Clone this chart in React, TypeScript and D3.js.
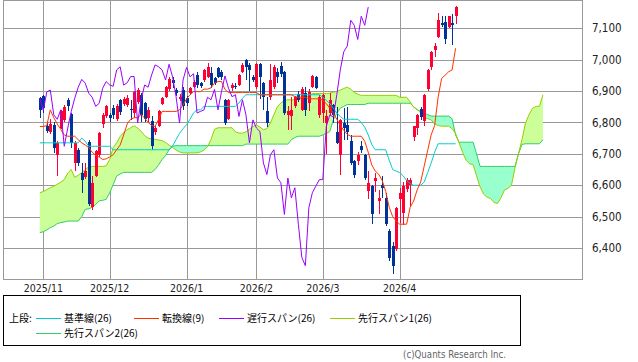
import React from "react";
import * as d3 from "d3";

// Ichimoku chart, daily bars from 2025/10/31 (index 0)
const width = 638;
const height = 362;

const monthIdx = [1, 20, 42, 62, 81, 103];
const monthLabels = ["2025/11", "2025/12", "2026/1", "2026/2", "2026/3", "2026/4"];
const priceTicks = [6400, 6500, 6600, 6700, 6800, 6900, 7000, 7100];

const opens = [
  6878, 6883, 6790, 6768, 6793, 6697, 6782, 6808, 6872, 6827, 6672, 6713, 6640, 6627, 6738, 6530, 6630, 6697, 6795, 6819,
  6822, 6845, 6811, 6872, 6859, 6856, 6843, 6830, 6865, 6888, 6862, 6815, 6803, 6770, 6788, 6860, 6882, 6905, 6935, 6904,
  6874, 6904, 6877, 6893, 6914, 6951, 6925, 6935, 6946, 6956, 6942, 6972, 6962, 6870, 6812, 6909, 6916, 6919, 6962, 7000,
  6983, 6946, 6914, 6985, 6925, 6835, 6880, 6912, 6962, 6980, 6962, 6824, 6819, 6851, 6890, 6840, 6893, 6861, 6914, 6943,
  6824, 6830, 6798, 6830, 6856, 6770, 6697, 6797, 6792, 6740, 6676, 6676, 6724, 6697, 6581, 6597, 6613, 6550, 6602, 6560,
  6454, 6407, 6396, 6555, 6513, 6587, 6602, 6753, 6782, 6842, 6803, 6905, 6977, 7032, 7072, 7117, 7120, 7104, 7117, 7138,
];
const highs = [
  6880, 6888, 6800, 6810, 6800, 6740, 6840, 6855, 6878, 6830, 6740, 6720, 6670, 6672, 6745, 6630, 6712, 6770, 6830, 6855,
  6830, 6855, 6860, 6875, 6880, 6888, 6872, 6900, 6908, 6895, 6866, 6848, 6819, 6790, 6840, 6882, 6915, 6945, 6946, 6910,
  6890, 6914, 6885, 6912, 6935, 6961, 6930, 6970, 6988, 6977, 6945, 6975, 6967, 6875, 6876, 6925, 6925, 6955, 6990, 7003,
  6988, 6950, 6990, 6990, 6930, 6880, 6985, 6982, 6972, 6992, 6965, 6852, 6880, 6885, 6900, 6912, 6914, 6905, 6952, 6948,
  6886, 6890, 6840, 6893, 6860, 6850, 6812, 6845, 6850, 6760, 6680, 6705, 6740, 6700, 6645, 6600, 6640, 6585, 6630, 6575,
  6460, 6420, 6530, 6590, 6610, 6622, 6622, 6790, 6826, 6848, 6890, 6970, 7028, 7054, 7148, 7138, 7138, 7140, 7146, 7170,
];
const lows = [
  6815, 6830, 6765, 6762, 6704, 6630, 6778, 6800, 6835, 6718, 6645, 6660, 6574, 6620, 6535, 6520, 6625, 6690, 6782, 6815,
  6800, 6810, 6805, 6825, 6852, 6850, 6808, 6815, 6860, 6800, 6800, 6800, 6713, 6760, 6785, 6855, 6878, 6900, 6909, 6885,
  6868, 6840, 6851, 6888, 6910, 6909, 6910, 6930, 6940, 6909, 6920, 6940, 6935, 6792, 6808, 6900, 6905, 6915, 6958, 6935,
  6900, 6930, 6905, 6875, 6840, 6785, 6870, 6905, 6925, 6945, 6825, 6777, 6777, 6845, 6865, 6835, 6819, 6835, 6910, 6905,
  6815, 6798, 6700, 6820, 6798, 6730, 6634, 6745, 6745, 6665, 6623, 6665, 6703, 6618, 6555, 6476, 6580, 6510, 6560, 6470,
  6360, 6317, 6390, 6481, 6475, 6580, 6535, 6740, 6760, 6808, 6788, 6900, 6967, 7007, 7070, 7105, 7050, 7100, 7046, 7113,
];
const closes = [
  6840, 6845, 6772, 6795, 6720, 6736, 6835, 6849, 6853, 6735, 6736, 6672, 6616, 6645, 6540, 6608, 6708, 6766, 6823, 6851,
  6815, 6825, 6853, 6832, 6874, 6877, 6838, 6897, 6903, 6824, 6810, 6840, 6724, 6782, 6835, 6877, 6912, 6937, 6925, 6893,
  6880, 6851, 6861, 6909, 6930, 6919, 6915, 6967, 6977, 6919, 6926, 6946, 6946, 6798, 6872, 6919, 6912, 6951, 6983, 6977,
  6967, 6935, 6985, 6945, 6882, 6798, 6935, 6975, 6945, 6955, 6830, 6835, 6840, 6880, 6872, 6905, 6840, 6898, 6948, 6909,
  6882, 6888, 6819, 6872, 6824, 6735, 6808, 6782, 6771, 6671, 6634, 6697, 6713, 6623, 6608, 6507, 6623, 6560, 6592, 6476,
  6370, 6344, 6528, 6576, 6597, 6618, 6618, 6787, 6824, 6817, 6888, 6967, 7025, 7043, 7125, 7109, 7064, 7138, 7109, 7167,
];

// 転換線(9)
const tenkan = [
  6787, 6787, 6790, 6840, 6815, 6795, 6778, 6760, 6756, 6756, 6756, 6745, 6735, 6728, 6720, 6705, 6695, 6690, 6682, 6684,
  6690, 6697, 6713, 6728, 6760, 6795, 6810, 6815, 6815, 6825, 6814, 6800, 6790, 6787, 6810, 6835, 6835, 6835, 6835, 6835,
  6840, 6855, 6875, 6888, 6898, 6898, 6898, 6906, 6906, 6910, 6925, 6930, 6930, 6905, 6895, 6895, 6895, 6895, 6895, 6895,
  6895, 6895, 6895, 6888, 6888, 6888, 6888, 6888, 6888, 6888, 6888, 6888, 6888, 6882, 6880, 6880, 6880, 6875, 6875, 6875,
  6875, 6870, 6860, 6845, 6830, 6810, 6790, 6775, 6762, 6756, 6756, 6756, 6756, 6740, 6705, 6665, 6645, 6635, 6615, 6580,
  6530, 6500, 6486, 6476, 6476, 6476, 6530, 6550, 6585, 6610, 6660, 6710, 6760, 6790, 6880, 6940, 6950, 6961, 6967, 7036,
];
// 基準線(26)
const kijun = [
  6735, 6735, 6735, 6735, 6735, 6735, 6735, 6735, 6735, 6735, 6735, 6735, 6750, 6740, 6724, 6724, 6724, 6724, 6724, 6724,
  6724, 6713, 6713, 6713, 6713, 6713, 6713, 6713, 6713, 6713, 6713, 6713, 6713, 6713, 6713, 6713, 6713, 6713, 6725, 6745,
  6765, 6780, 6793, 6810, 6830, 6840, 6840, 6851, 6851, 6851, 6851, 6851, 6851, 6851, 6851, 6851, 6851, 6862, 6877, 6888,
  6888, 6888, 6888, 6888, 6888, 6888, 6888, 6888, 6888, 6888, 6888, 6888, 6888, 6888, 6888, 6888, 6888, 6888, 6888, 6888,
  6888, 6880, 6870, 6860, 6845, 6830, 6819, 6810, 6810, 6810, 6810, 6810, 6800, 6785, 6760, 6730, 6713, 6713, 6713, 6713,
  6680, 6650, 6645, 6640, 6630, 6615, 6605, 6600, 6600, 6600, 6610, 6640, 6670, 6705, 6732, 6732, 6732, 6732, 6732, 6732,
];
// 先行スパン1(26), drawn from index 0 to 144
const span1 = [
  6576, 6580, 6586, 6592, 6597, 6603, 6610, 6618, 6639, 6650, 6625, 6632, 6640, 6650, 6658, 6660, 6660, 6660, 6660, 6662,
  6682, 6720, 6735, 6755, 6768, 6777, 6783, 6789, 6782, 6772, 6758, 6750, 6747, 6746, 6744, 6742, 6736, 6728, 6720, 6712,
  6706, 6703, 6703, 6703, 6703, 6703, 6706, 6712, 6722, 6745, 6778, 6783, 6783, 6783, 6783, 6783, 6770, 6766, 6766, 6770,
  6778, 6787, 6792, 6785, 6777, 6780, 6798, 6825, 6850, 6862, 6870, 6872, 6872, 6872, 6876, 6876, 6880, 6884, 6892, 6892,
  6892, 6892, 6892, 6893, 6896, 6898, 6903, 6908, 6912, 6906, 6895, 6890, 6886, 6886, 6886, 6886, 6886, 6886, 6886, 6886,
  6886, 6886, 6886, 6880, 6880, 6880, 6865, 6848, 6842, 6830, 6815, 6812, 6808, 6795, 6790, 6788, 6788, 6788, 6780, 6765,
  6735, 6705, 6680, 6668, 6666, 6630, 6595, 6572, 6562, 6558, 6545, 6542, 6560, 6585, 6590, 6600, 6655, 6700, 6745, 6798,
  6824, 6845, 6851, 6851, 6888,
];
// 先行スパン2(26)
const span2 = [
  6449, 6452, 6458, 6465, 6470, 6478, 6481, 6483, 6486, 6486, 6486, 6486, 6500, 6523, 6525, 6530, 6539, 6550, 6552, 6555,
  6576, 6602, 6629, 6636, 6641, 6641, 6641, 6641, 6641, 6641, 6641, 6641, 6641, 6650, 6665, 6682, 6695, 6713, 6724, 6726,
  6726, 6726, 6726, 6726, 6726, 6726, 6726, 6726, 6726, 6726, 6726, 6726, 6726, 6726, 6726, 6726, 6726, 6726, 6726, 6731,
  6731, 6731, 6731, 6731, 6731, 6731, 6731, 6731, 6731, 6731, 6731, 6731, 6745, 6752, 6756, 6756, 6756, 6756, 6756, 6756,
  6756, 6760, 6765, 6771, 6808, 6829, 6845, 6851, 6857, 6857, 6857, 6857, 6857, 6857, 6861, 6861, 6861, 6861, 6861, 6861,
  6861, 6861, 6861, 6861, 6861, 6861, 6861, 6850, 6840, 6835, 6830, 6825, 6820, 6820, 6820, 6820, 6820, 6820, 6812, 6760,
  6737, 6737, 6737, 6737, 6737, 6700, 6660, 6660, 6660, 6660, 6660, 6660, 6660, 6660, 6660, 6660, 6660, 6700, 6730, 6732,
  6732, 6732, 6732, 6732, 6745,
];

const LAG = 25; // 遅行スパン shift

const C = {
  up: "#ff0033",
  down: "#003399",
  kijun: "#00cccc",
  tenkan: "#ff3300",
  chikou: "#9900ff",
  span1: "#99cc00",
  span2: "#33cc66",
  cloudUp: "#ccff99",
  cloudDown: "#99ffcc",
  grid: "#999999",
};

const legendItems = [
  { label: "基準線(26)", color: C.kijun, x: 36, row: 0 },
  { label: "転換線(9)", color: C.tenkan, x: 134, row: 0 },
  { label: "遅行スパン(26)", color: C.chikou, x: 219, row: 0 },
  { label: "先行スパン1(26)", color: C.span1, x: 330, row: 0 },
  { label: "先行スパン2(26)", color: C.span2, x: 36, row: 1 },
];

export default function App() {
  const plot = { left: 3.5, right: 582.5, top: 0.5, bottom: 279.5 };
  const x = d3.scaleLinear().domain([0, 145]).range([39.8, 39.8 + 145 * 3.494]);
  const y = d3.scaleLinear().domain([6300, 7188]).range([plot.bottom, plot.top]);

  const idx = d3.range(span1.length);
  const cloudUp = d3
    .area<number>()
    .x((i) => x(i))
    .y0((i) => y(span2[i]))
    .y1((i) => y(Math.max(span1[i], span2[i])));
  const cloudDown = d3
    .area<number>()
    .x((i) => x(i))
    .y0((i) => y(span1[i]))
    .y1((i) => y(Math.max(span1[i], span2[i])));

  const line = (vals: number[], shift = 0) =>
    d3
      .line<number>()
      .x((_, i) => x(i + shift))
      .y((v) => y(v))(vals) || "";

  const chikouPts = closes.slice(LAG);
  const axisFont = { fontFamily: "'DejaVu Sans', sans-serif", fontStretch: "condensed" as const };
  const jpFont = "'Noto Sans CJK JP', sans-serif";

  return (
    <svg width={width} height={height} style={{ position: "absolute", left: 0, top: 0, background: "#fff" }}>
      <defs>
        <clipPath id="plotClip">
          <rect x={plot.left} y={plot.top} width={plot.right - plot.left} height={plot.bottom - plot.top} />
        </clipPath>
      </defs>

      {/* grid */}
      <g stroke={C.grid} strokeWidth={1} shapeRendering="crispEdges">
        {priceTicks.map((t) => (
          <line key={t} x1={plot.left} x2={plot.right} y1={Math.round(y(t)) + 0.5} y2={Math.round(y(t)) + 0.5} />
        ))}
        {monthIdx.map((m) => (
          <line key={m} x1={Math.round(x(m)) + 0.5} x2={Math.round(x(m)) + 0.5} y1={plot.top} y2={plot.bottom} />
        ))}
      </g>

      <g clipPath="url(#plotClip)">
        {/* cloud */}
        <path d={cloudUp(idx) || ""} fill={C.cloudUp} />
        <path d={cloudDown(idx) || ""} fill={C.cloudDown} />
        <path d={line(span2)} fill="none" stroke={C.span2} strokeWidth={1} />
        <path d={line(span1)} fill="none" stroke={C.span1} strokeWidth={1} />

        {/* candles */}
        {closes.map((c, i) => {
          const o = opens[i];
          const col = c >= o ? C.up : C.down;
          const cx = Math.round(x(i));
          const top = Math.round(y(Math.max(o, c)));
          const bot = Math.round(y(Math.min(o, c)));
          return (
            <g key={i} shapeRendering="crispEdges">
              <line x1={cx + 0.5} x2={cx + 0.5} y1={y(highs[i])} y2={y(lows[i])} stroke={col} strokeWidth={1} />
              <rect x={cx - 1} y={top} width={3} height={Math.max(1, bot - top)} fill={col} />
            </g>
          );
        })}

        <path d={line(kijun)} fill="none" stroke={C.kijun} strokeWidth={1} />
        <path d={line(tenkan)} fill="none" stroke={C.tenkan} strokeWidth={1} />
        <path d={line(chikouPts)} fill="none" stroke={C.chikou} strokeWidth={1} />
      </g>

      {/* frame */}
      <rect
        x={plot.left}
        y={plot.top}
        width={plot.right - plot.left}
        height={plot.bottom - plot.top}
        fill="none"
        stroke={C.grid}
        shapeRendering="crispEdges"
      />

      {/* y labels */}
      {priceTicks.map((t) => (
        <text key={t} x={592} y={y(t)} dy="0.36em" fontSize={11.5} fill="#222" style={axisFont}>
          {d3.format(",")(t)}
        </text>
      ))}

      {/* x labels */}
      {monthIdx.map((m, k) => (
        <text key={m} x={x(m)} y={288} dy="0.36em" fontSize={10.5} textAnchor="middle" fill="#222" style={axisFont}>
          {monthLabels[k]}
        </text>
      ))}

      {/* legend */}
      <rect x={3.5} y={295.5} width={517} height={50} fill="none" stroke="#000" shapeRendering="crispEdges" />
      <text x={9} y={318} dy="0.36em" fontSize={10} fontFamily={jpFont} fill="#000">
        上段:
      </text>
      {legendItems.map((d) => {
        const ly = 318 + d.row * 15;
        return (
          <g key={d.label}>
            <line x1={d.x} x2={d.x + 25} y1={ly + 0.5} y2={ly + 0.5} stroke={d.color} strokeWidth={1} />
            <text x={d.x + 28} y={ly} dy="0.36em" fontSize={10} fontFamily={jpFont} fill="#000">
              {d.label}
            </text>
          </g>
        );
      })}

      <text x={506} y={355} dy="0.36em" fontSize={9.6} textAnchor="end" fill="#666" style={axisFont}>
        (c)Quants Research Inc.
      </text>
    </svg>
  );
}
